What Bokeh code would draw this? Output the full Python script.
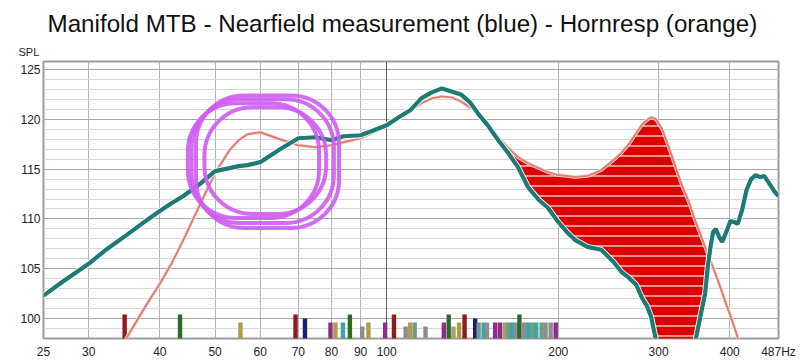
import numpy as np
from bokeh.plotting import figure
from bokeh.models import FixedTicker, Grid, Title, BoxAnnotation
from bokeh.embed import file_html
from bokeh.resources import INLINE

# ---------------- data ----------------
FREQ = [25, 27, 30, 32, 35, 38, 40, 42, 44, 47, 50, 53, 55, 57, 60, 65, 70, 75, 80, 84,
        90, 95, 100, 105, 110, 115, 120, 125, 130, 135, 140, 145, 150, 157, 163, 170,
        177, 185, 192, 200, 207, 214, 225, 238, 250, 258, 266, 274, 281, 286, 291, 297,
        305, 317, 329, 340, 348, 356, 362, 366, 370, 374, 378, 383, 388, 395, 401, 407,
        413, 420, 428, 436, 444, 452, 460, 470, 480, 487]

NEARFIELD = [102.3, 103.7, 105.5, 106.8, 108.4, 109.9, 110.8, 111.6, 112.3, 113.5, 114.8,
             115.1, 115.3, 115.4, 115.7, 117.0, 118.1, 118.2, 117.9, 118.3,
             118.4, 118.9, 119.4, 120.2, 120.9, 122.1, 122.7, 123.1, 122.8, 122.5, 121.7,
             120.5, 119.5, 117.9, 116.7, 115.2, 113.2, 111.9, 111.1, 109.7, 108.7, 107.9,
             107.2, 106.9, 105.7, 104.7, 104.1, 103.4, 102.0, 101.3, 100.2, 97.8,
             95.5, 94.3, 94.5, 95.8, 97.7, 100.5, 102.5, 105.2, 107.2, 108.7, 109.0, 108.2,
             107.7, 108.8, 109.8, 109.7, 109.5, 110.8, 112.9, 114.0, 114.4, 114.2, 114.3,
             113.5, 112.7, 112.3]

HORNRESP = [83.0, 86.0, 90.5, 93.5, 98.1, 101.5, 103.5, 105.6, 107.9, 111.4, 114.6,
            116.9, 117.9, 118.5, 118.7, 118.0, 117.4, 117.2, 117.4, 117.7,
            118.1, 118.7, 119.3, 120.0, 120.8, 121.6, 122.1, 122.3, 122.2, 121.8, 121.2,
            120.5, 119.6, 118.2, 117.2, 116.2, 115.6, 115.1, 114.7, 114.4, 114.3, 114.2,
            114.3, 114.9, 115.9, 116.6, 117.5, 118.6, 119.5, 119.9, 120.2, 120.0,
            118.9, 116.2, 113.5, 111.5, 109.8, 108.3, 107.2, 106.5, 105.8, 105.1, 104.4,
            103.5, 102.6, 101.3, 100.3, 99.2, 98.1, 96.8, 95.4, 94.0, 92.6, 91.3, 90.0,
            88.4, 86.8, 85.7]

# frequency band in which the Hornresp excess over the measurement is shaded
SHADE_BAND = (145, 372)

X_TICKS = [25, 30, 40, 50, 60, 70, 80, 90, 100, 200, 300, 400, 487]
X_GRID = [30, 40, 50, 60, 70, 80, 90, 200, 300, 400]
Y_TICKS = [100, 105, 110, 115, 120, 125]
Y_MINOR = list(range(98, 126))

DR, DG, GO, NV, PU, TE, GR, SA, KH = ("#8c1c1c", "#2b6a2b", "#b39a45", "#1e1e78", "#8e2c8e",
                                      "#3ea3a6", "#8d8d8d", "#6f9c84", "#a3a06a")
BAR_FREQ = [34.7, 43.4, 55.4, 69.2, 71.9, 79.7, 81.3, 83.8, 86.2, 90.6, 92.9, 99.4, 103,
            108, 110, 112, 117, 126, 128.5, 131, 134, 137, 143, 145, 148, 150, 155, 158,
            161, 163.5, 166, 168.7, 171, 174, 177, 180, 183, 187, 190, 194, 198]
BAR_TOP = [100.4, 100.4, 99.6, 100.4, 100.0, 99.6, 99.6, 99.6, 100.4, 99.2, 99.6, 99.6, 100.4,
           99.2, 99.6, 99.6, 99.2, 99.6, 100.4, 99.2, 99.6, 100.4, 100.0, 99.6, 99.6, 99.6,
           99.6, 99.6, 99.6, 99.6, 99.6, 99.6, 100.4, 99.6, 99.6, 99.6, 99.6, 99.6, 99.6,
           99.6, 99.6]
BAR_COLOR = [DR, DG, GO, DR, NV, PU, GO, TE, DG, GR, GO, PU, DR,
             GR, GO, SA, GR, PU, DG, KH, GO, DR, NV, SA, TE, GR,
             PU, PU, KH, SA, TE, GR, DG, GR, TE, SA, TE, SA, GR, GR, PU]
BAR_BASE = 97

# hand-drawn highlight loops (left Hz, right Hz, bottom dB, top dB)
SCRIBBLES = [(44.8, 76.1, 110.1, 121.6), (46.3, 82.5, 109.1, 122.4),
             (47.9, 78.3, 110.5, 121.2), (45.5, 80.8, 109.6, 122.0)]

TITLE = "Manifold MTB - Nearfield measurement (blue) - Hornresp (orange)"
FONT = "Liberation Sans"

# ---------------- figure ----------------
p = figure(width=800, height=362, x_axis_type="log", x_range=(25, 487), y_range=(98, 125.8),
           output_backend="svg", toolbar_location=None,
           min_border_left=43, min_border_right=22, min_border_top=61, min_border_bottom=24)
p.background_fill_color = "white"
p.border_fill_color = "white"
p.outline_line_color = "#9c9c9c"
p.outline_line_width = 2

p.title.text = TITLE
p.title.text_font = FONT
p.title.text_font_size = "24.2px"
p.title.text_font_style = "normal"
p.title.align = "left"
p.title.offset = 4
p.title.text_color = "#111111"
p.title.standoff = 7
p.add_layout(Title(text="SPL", align="left", offset=-25, text_font=FONT, standoff=7,
                   text_font_size="11px", text_font_style="normal", text_color="#222222"),
             "above")

for ax in (p.xaxis[0], p.yaxis[0]):
    ax.axis_label = None
    ax.axis_label_standoff = 0
    ax.axis_line_color = None
    ax.major_tick_out = 0
    ax.major_tick_in = 0
    ax.minor_tick_out = 0
    ax.minor_tick_in = 0
    ax.major_label_text_font = FONT
    ax.major_label_text_font_size = "12px"
    ax.major_label_text_color = "#222222"

p.xaxis.ticker = FixedTicker(ticks=X_TICKS)
p.xaxis.major_label_overrides = {487: "487Hz"}
p.xaxis.major_label_standoff = 6
p.yaxis.ticker = FixedTicker(ticks=Y_TICKS, minor_ticks=Y_MINOR)
p.yaxis.major_label_standoff = 3

p.xgrid.ticker = FixedTicker(ticks=X_GRID)
p.xgrid.grid_line_color = "#b2b2b2"
p.add_layout(Grid(dimension=0, ticker=FixedTicker(ticks=[100]), grid_line_color="#5e5e5e"))
p.ygrid.grid_line_color = "#a6a6a6"
p.ygrid.minor_grid_line_color = "#d6d6d6"

# bars
p.segment(x0=BAR_FREQ, x1=BAR_FREQ, y0=[BAR_BASE] * len(BAR_FREQ), y1=BAR_TOP,
          line_color=BAR_COLOR, line_width=4.4, line_cap="butt")

# shaded excess
f = np.array(FREQ, dtype=float)
nf = np.array(NEARFIELD)
hr = np.array(HORNRESP)
m = (f >= SHADE_BAND[0]) & (f <= SHADE_BAND[1])
p.varea(x=f[m], y1=nf[m], y2=np.maximum(hr[m], nf[m]), fill_color="#dc0000",
        hatch_pattern="horizontal_line", hatch_color="white", hatch_scale=10,
        hatch_weight=1.1)

# curves
p.line(FREQ, HORNRESP, line_color="#fbe3df", line_width=3.5)
p.line(FREQ, HORNRESP, line_color="#e07d72", line_width=2)
p.line(FREQ, NEARFIELD, line_color="#ffffff", line_width=6)
p.line(FREQ, NEARFIELD, line_color="#1e7a74", line_width=4.2)

for (l, r, b, t) in SCRIBBLES:
    p.add_layout(BoxAnnotation(left=l, right=r, bottom=b, top=t, fill_color=None,
                               line_color="#cf5cf2", line_width=4, line_alpha=0.9,
                               border_radius=48))

open("out.html", "w").write(file_html(p, INLINE))
